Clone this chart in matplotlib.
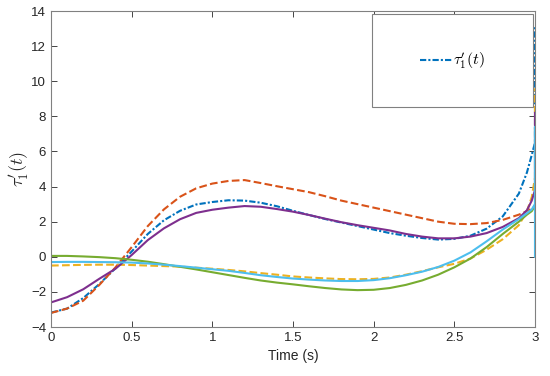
import matplotlib
matplotlib.use('Agg')
import matplotlib.pyplot as plt
from matplotlib.patches import Rectangle

plt.rcParams['font.family'] = ['Liberation Sans', 'DejaVu Sans']
plt.rcParams['mathtext.fontset'] = 'cm'

# время (с), последние точки в t=3 дают вертикальные выбросы
t = [0, 0.1, 0.2, 0.3, 0.4, 0.5, 0.6, 0.7, 0.8, 0.9, 1.0, 1.1, 1.2, 1.3, 1.4, 1.5,
     1.6, 1.7, 1.8, 1.9, 2.0, 2.1, 2.2, 2.3, 2.4, 2.5, 2.6, 2.7, 2.8, 2.9, 2.95, 2.98, 3.0]

tau_blue = [-3.18, -2.95, -2.35, -1.55, -0.65, 0.3, 1.3, 2.08, 2.62, 2.98, 3.12, 3.22, 3.2,
            3.08, 2.88, 2.62, 2.38, 2.15, 1.95, 1.75, 1.55, 1.35, 1.2, 1.07, 0.98, 1.02, 1.2,
            1.6, 2.3, 3.6, 4.8, 5.8, 6.5]
tau_orange = [-3.2, -2.95, -2.5, -1.6, -0.6, 0.55, 1.75, 2.7, 3.42, 3.9, 4.17, 4.32, 4.37,
              4.2, 4.02, 3.85, 3.68, 3.45, 3.2, 3.0, 2.8, 2.6, 2.4, 2.2, 2.0, 1.88, 1.86,
              1.92, 2.1, 2.4, 2.6, 2.75, 2.9]
tau_yellow = [-0.5, -0.48, -0.46, -0.45, -0.45, -0.47, -0.5, -0.53, -0.56, -0.62, -0.68,
              -0.75, -0.83, -0.93, -1.02, -1.12, -1.18, -1.23, -1.27, -1.28, -1.26, -1.18,
              -1.02, -0.82, -0.6, -0.4, -0.1, 0.4, 1.0, 1.8, 2.6, 3.4, 4.5]
tau_purple = [-2.6, -2.3, -1.85, -1.25, -0.68, 0.1, 0.95, 1.62, 2.14, 2.5, 2.68, 2.8,
              2.89, 2.85, 2.72, 2.57, 2.38, 2.17, 1.97, 1.8, 1.65, 1.5, 1.3, 1.15, 1.05, 1.05,
              1.15, 1.35, 1.7, 2.2, 2.65, 3.2, 3.8]
tau_green = [0.05, 0.05, 0.02, -0.02, -0.08, -0.17, -0.28, -0.42, -0.57, -0.72, -0.88, -1.04,
             -1.2, -1.35, -1.47, -1.57, -1.68, -1.78, -1.86, -1.9, -1.88, -1.78, -1.6, -1.35,
             -1.02, -0.6, -0.1, 0.55, 1.3, 2.0, 2.4, 2.6, 2.9]
tau_cyan = [-0.3, -0.29, -0.29, -0.3, -0.31, -0.33, -0.38, -0.45, -0.53, -0.62, -0.71, -0.8,
            -0.92, -1.05, -1.15, -1.24, -1.3, -1.35, -1.38, -1.38, -1.33, -1.22, -1.05, -0.85,
            -0.58, -0.22, 0.25, 0.88, 1.55, 2.15, 2.48, 2.7, 3.0]

# значения в самом конце (t = 3)
end_blue = [13.1]
end_yellow = [9.6]
end_purple = [8.2]
end_cyan = [7.4, 0.0]

fig = plt.figure(figsize=(5.5, 3.76), dpi=100)
ax = fig.add_axes([0.0927, 0.1303, 0.88, 0.8404])

lw = 1.5
ax.plot(t + [3.0] * len(end_blue), tau_blue + end_blue, color='#0072BD', lw=lw,
        dashes=[3, 1, 1, 1], label=r'$\tau_1^{\prime}(t)$')
ax.plot(t, tau_orange, '--', color='#D95319', lw=lw)
ax.plot(t + [3.0] * len(end_yellow), tau_yellow + end_yellow, '--', color='#EDB120', lw=lw)
ax.plot(t + [3.0] * len(end_purple), tau_purple + end_purple, '-', color='#7E2F8E', lw=lw)
ax.plot(t, tau_green, '-', color='#77AC30', lw=lw)
ax.plot(t + [3.0] * len(end_cyan), tau_cyan + end_cyan, '-', color='#4DBEEE', lw=lw)

ax.set_xlim(0, 3)
ax.set_ylim(-4, 14)
ax.set_xticks([0, 0.5, 1, 1.5, 2, 2.5, 3])
ax.set_xticklabels(['0', '0.5', '1', '1.5', '2', '2.5', '3'])
ax.set_yticks(range(-4, 15, 2))
ax.tick_params(direction='in', top=True, right=True, labelsize=9.5, colors='#262626',
               length=4, width=0.6)
for s in ax.spines.values():
    s.set_color('#808080')
    s.set_linewidth(0.8)

ax.set_xlabel('Time (s)', fontsize=10, color='#262626')
ax.set_ylabel(r'$\tau_1^{\prime}(t)$', fontsize=13, color='#262626', labelpad=0)

# рамка легенды
ax.add_patch(Rectangle((0.663, 0.696), 0.333, 0.294, transform=ax.transAxes,
                       fill=True, facecolor='white', edgecolor='#808080', lw=0.8, zorder=5))
leg = ax.legend(loc='center', bbox_to_anchor=(0.83, 0.843), frameon=False, fontsize=11.5,
                handlelength=2.0, handletextpad=0.1)
leg.set_zorder(6)

fig.savefig('out.png', dpi=100)
